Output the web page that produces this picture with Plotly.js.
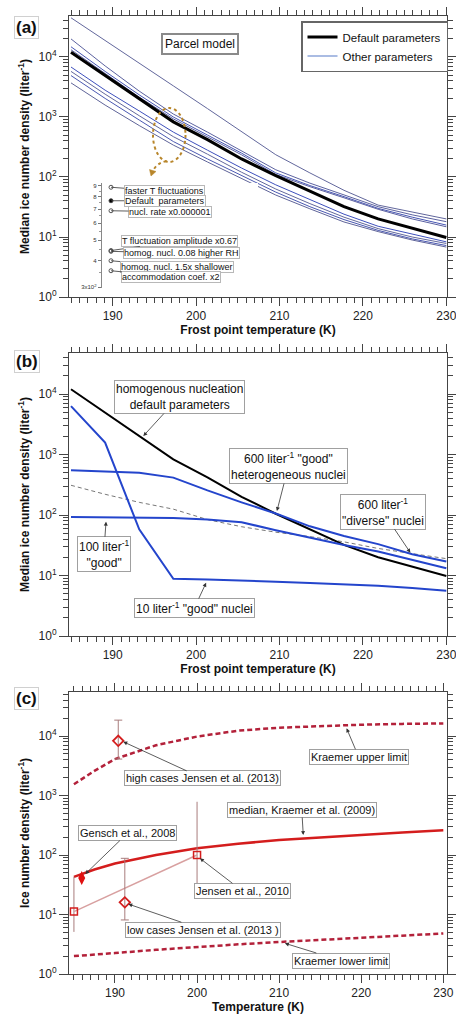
<!DOCTYPE html>
<html><head><meta charset="utf-8">
<script src="https://cdn.plot.ly/plotly-3.0.1.min.js"></script>
<style>html,body{margin:0;padding:0;background:#fff}#chart{width:456px;height:1021px}</style>
</head><body><div id="chart"></div>
<script>
// ---------- DATA ----------
const gridT = [185, 189.09, 193.18, 197.27, 201.36, 205.45, 209.55, 213.64, 217.73, 221.82, 225.91, 230];
// panel (a): default + other parameter sets
const aDefault = [12000, 4900, 2000, 830, 420, 200, 105, 58, 32, 20, 13.8, 9.8];
const aOther1 = [45000, 19000, 7900, 3300, 1380, 575, 235, 117, 60, 34, 26, 20];
const aOther2 = [20000, 7100, 2700, 1120, 560, 275, 132, 79, 50, 32, 23.4, 18];
const aOther3 = [14800, 5750, 2340, 1000, 500, 250, 117, 72, 47, 30, 21.4, 15.8];
const aOther4 = [13200, 5250, 2140, 930, 470, 234, 110, 69, 45, 29, 20, 14.8];
const aOther5 = [6800, 2800, 1260, 560, 280, 141, 74, 42, 24, 15.1, 11.2, 8.3];
const aOther6 = [5750, 2400, 1050, 470, 240, 120, 63, 36, 21.4, 13.8, 10, 7.8];
const aOther7 = [4900, 2040, 890, 390, 200, 105, 56, 32, 19.5, 12.9, 9.3, 7.2];
const aOther8 = [3700, 1580, 720, 340, 178, 93, 50, 29.5, 17.8, 12.3, 8.9, 6.8];
// inset of panel (a)
const insetLabels = ['faster T fluctuations', 'Default  parameters', 'nucl. rate x0.000001',
  'T fluctuation amplitude x0.67', 'homog. nucl. 0.08 higher RH', 'homog. nucl. 1.5x shallower', 'accommodation coef. x2'];
const insetValues = [887, 766, 687, 446, 442, 399, 358];
const insetTickVals = [300, 400, 500, 600, 700, 800, 900];
const insetTickText = ['3x10<sup>2</sup>', '4', '5', '6', '7', '8', '9'];
// panel (b)
const b600good = [550, 530, 500, 415, 255, 162, 106, 65, 45, 33, 22.5, 17];
const b600diverse = [310, 220, 162, 125, 84, 64, 52, 44, 36, 28, 23, 19];
const b100good = [93, 92, 91, 89, 84, 76, 56, 42, 32, 25, 18, 13.2];
const b10good = [6300, 1570, 58, 8.8, 8.6, 8.3, 7.9, 7.5, 7.1, 6.8, 6.2, 5.6];
// panel (c)
const cT = [185, 187.5, 190, 195, 200, 205, 210, 215, 220, 225, 230];
const cUpper = [1550, 2600, 4100, 7000, 9800, 12300, 13800, 14800, 15500, 16000, 16300];
const cMedian = [43, 57, 72, 100, 130, 155, 178, 198, 218, 238, 260];
const cLower = [2.0, 2.1, 2.25, 2.55, 2.85, 3.15, 3.45, 3.75, 4.1, 4.45, 4.8];
const jensen10T = [185, 200];
const jensen10N = [11.2, 100];
const jensen10Plus = [31.8, 685];
const jensen10Minus = [6.1, 77];
const jensen13T = [190.4, 191.2];
const jensen13N = [8300, 16];
const jensen13Plus = [10200, 72];
const jensen13Minus = [4200, 7.9];
const genschT = [185.95];
const genschN = [41];
const decadeVals = [1, 10, 100, 1000, 10000];
const decadeText = ['10<sup>0</sup>', '10<sup>1</sup>', '10<sup>2</sup>', '10<sup>3</sup>', '10<sup>4</sup>'];

// ---------- LAYOUT HELPERS ----------
const W = 456, H = 1021, M = {l: 69, r: 9, t: 16, b: 47};
const PW = W - M.l - M.r, PH = H - M.t - M.b;
const px = x => (x - M.l) / PW;
const py = y => (H - M.b - y) / PH;
const FONT = 'Liberation Sans, Arial, sans-serif';
const AX = '#444';

const minorVals = [];
for (let e = 0; e < 5; e++) for (let k = 2; k <= 9; k++) minorVals.push(k * Math.pow(10, e));

function xAxis(anchor, range, title) {
  return {
    anchor: anchor, domain: [0, 1], range: range, automargin: false, ticklabeloverflow: 'allow',
    tickmode: 'linear', tick0: 180, dtick: 10,
    ticks: 'outside', ticklen: 8, tickwidth: 1, tickcolor: AX,
    minor: {tickmode: 'linear', tick0: 180, dtick: 1, ticks: 'outside', ticklen: 5, tickwidth: 1, tickcolor: AX},
    showline: true, linecolor: AX, linewidth: 1, mirror: 'ticks',
    showgrid: false, zeroline: false,
    tickfont: {size: 12, color: '#222'},
    title: {text: title, font: {size: 12, weight: 'bold', color: '#111'}, standoff: 3}
  };
}
function yAxis(anchor, top, bottom, range, title) {
  return {
    anchor: anchor, type: 'log', domain: [py(bottom), py(top)], range: range, automargin: false,
    ticklabeloverflow: 'allow',
    tickmode: 'array', tickvals: decadeVals, ticktext: decadeText,
    ticks: 'outside', ticklen: 9, tickwidth: 1, tickcolor: AX,
    minor: {tickmode: 'array', tickvals: minorVals, ticks: 'outside', ticklen: 5, tickwidth: 1, tickcolor: AX},
    showline: true, linecolor: AX, linewidth: 1, mirror: 'ticks',
    showgrid: false, zeroline: false,
    tickfont: {size: 12, color: '#222'},
    title: {text: title, font: {size: 12, weight: 'bold', color: '#111'}, standoff: 6}
  };
}

// ---------- TRACES ----------
const traces = [];
const otherSets = [aOther1, aOther2, aOther3, aOther4, aOther5, aOther6, aOther7, aOther8];
const otherColors = ['#62679c', '#5c62a0', '#4756b4', '#5a60a0', '#3e50bd', '#62679c', '#4a58b2', '#5f6499'];
otherSets.forEach((s, i) => traces.push({
  x: gridT, y: s, xaxis: 'x', yaxis: 'y', mode: 'lines',
  line: {color: otherColors[i], width: 1}, showlegend: false, hoverinfo: 'skip'
}));
traces.push({x: gridT, y: aDefault, xaxis: 'x', yaxis: 'y', mode: 'lines',
  line: {color: '#000', width: 3}, name: 'Default parameters', legendrank: 1});
// legend-only entry for the "other parameters" family (no drawn points)
traces.push({x: [null], y: [null], xaxis: 'x', yaxis: 'y', mode: 'lines',
  line: {color: '#8ea6da', width: 1.5}, name: 'Other parameters', legendrank: 2, showlegend: true});
// inset
traces.push({x: insetValues.map(() => 0), y: insetValues, xaxis: 'x4', yaxis: 'y4', mode: 'markers',
  marker: {symbol: insetLabels.map(l => l.startsWith('Default') ? 'circle' : 'circle-open'),
    color: insetLabels.map(l => l.startsWith('Default') ? '#000' : '#555'), size: 4, line: {width: 1}},
  showlegend: false, hoverinfo: 'skip'});

// panel (b)
traces.push({x: gridT, y: b600diverse, xaxis: 'x2', yaxis: 'y2', mode: 'lines',
  line: {color: '#777', width: 1, dash: '4px,3px'}, showlegend: false});
traces.push({x: gridT, y: aDefault, xaxis: 'x2', yaxis: 'y2', mode: 'lines',
  line: {color: '#000', width: 2}, showlegend: false});
[b600good, b100good, b10good].forEach(s => traces.push({x: gridT, y: s, xaxis: 'x2', yaxis: 'y2', mode: 'lines',
  line: {color: '#2445cc', width: 2}, showlegend: false}));

// panel (c)
const DR = '#b3213a';
traces.push({x: cT, y: cUpper, xaxis: 'x3', yaxis: 'y3', mode: 'lines',
  line: {color: DR, width: 2.5, dash: '5px,3px'}, showlegend: false});
traces.push({x: cT, y: cLower, xaxis: 'x3', yaxis: 'y3', mode: 'lines',
  line: {color: DR, width: 2.5, dash: '5px,3px'}, showlegend: false});
traces.push({x: cT, y: cMedian, xaxis: 'x3', yaxis: 'y3', mode: 'lines',
  line: {color: '#d41d1d', width: 2.5}, showlegend: false});
traces.push({x: jensen10T, y: jensen10N, xaxis: 'x3', yaxis: 'y3', mode: 'lines+markers',
  line: {color: '#d8a0a0', width: 1.5},
  marker: {symbol: 'square-open', size: 7, color: '#d41d1d', line: {width: 1.5}},
  error_y: {type: 'data', symmetric: false, array: jensen10Plus, arrayminus: jensen10Minus, color: '#a87c7c', thickness: 1, width: 0},
  showlegend: false});
traces.push({x: jensen13T, y: jensen13N, xaxis: 'x3', yaxis: 'y3', mode: 'markers',
  marker: {symbol: 'diamond-open', size: 8, color: '#d41d1d', line: {width: 1.8}},
  error_y: {type: 'data', symmetric: false, array: jensen13Plus, arrayminus: jensen13Minus, color: '#a87c7c', thickness: 1, width: 4},
  showlegend: false});
traces.push({x: genschT, y: genschN, xaxis: 'x3', yaxis: 'y3', mode: 'markers',
  marker: {symbol: 'diamond-tall', size: 10, color: '#e01010'}, showlegend: false});

// ---------- ANNOTATIONS ----------
const ann = [];
function panelLabel(t, cy) {
  ann.push({text: '<b>' + t + '</b>', xref: 'paper', yref: 'paper', x: px(14), y: py(cy),
    xanchor: 'left', yanchor: 'middle', showarrow: false, font: {size: 17, color: '#111'},
    bgcolor: '#fff', bordercolor: '#d0d0d0', borderwidth: 1, borderpad: 1});
}
panelLabel('(a)', 27); panelLabel('(b)', 361); panelLabel('(c)', 698);

ann.push({text: 'Parcel model', xref: 'paper', yref: 'paper', x: px(200), y: py(33), showarrow: false,
  font: {size: 12, color: '#111'}, bgcolor: '#fff', bordercolor: '#8a8a8a', borderwidth: 2, borderpad: 2});

// inset labels (arrow head at marker; ax, ay = offset of label box centre in px)
const insetOff = [[53, 4], [53.5, 0], [59, 1], [68.5, -9.5], [70.7, 2], [65.5, 6], [60.3, 6]];
insetLabels.forEach((t, i) => ann.push({text: t, xref: 'x4', yref: 'y4', x: 0, y: Math.log10(insetValues[i]),
  ax: insetOff[i][0], ay: insetOff[i][1], showarrow: true, arrowhead: 0, arrowwidth: 0.8, arrowcolor: '#333',
  font: {size: 9, color: '#111'}, bgcolor: '#fff', bordercolor: '#b8b8b8', borderwidth: 1, borderpad: 0}));

function callout(xr, yr, t, v, text, ax, ay, size) {
  ann.push({text: text, xref: xr, yref: yr, x: t, y: Math.log10(v), ax: ax, ay: ay,
    showarrow: true, arrowhead: 2, arrowsize: 1, arrowwidth: 0.8, arrowcolor: '#333', standoff: 0,
    font: {size: size, color: '#111'}, bgcolor: '#fff', bordercolor: '#a0a0a0', borderwidth: 1, borderpad: 1});
}
// panel (b)
callout('x2', 'y2', 193.67, Math.pow(10, 3.306), 'homogenous nucleation<br>default parameters', 35.7, -39, 12);
callout('x2', 'y2', 209.69, Math.pow(10, 2.066), '600 liter<sup>-1</sup> "good"<br>heterogeneous nuclei', 11.6, -45, 12);
callout('x2', 'y2', 225.69, Math.pow(10, 1.377), '600 liter<sup>-1</sup><br>"diverse" nuclei', -27.5, -41, 12);
callout('x2', 'y2', 189.2, Math.pow(10, 1.89), '100 liter<sup>-1</sup><br>"good"', -2.3, 32.6, 12);
callout('x2', 'y2', 201.2, Math.pow(10, 0.88), '10 liter<sup>-1</sup> "good" nuclei', -11.8, 25.3, 12);
// panel (c)
callout('x3', 'y3', 191.01, Math.pow(10, 3.904), 'high cases Jensen et al. (2013)', 79.7, 36.6, 11);
callout('x3', 'y3', 218.22, Math.pow(10, 4.129), 'Kraemer upper limit', 12, 28.4, 11);
callout('x3', 'y3', 212.94, Math.pow(10, 2.336), 'median, Kraemer et al. (2009)', -1.5, -25, 11);
callout('x3', 'y3', 186.38, Math.pow(10, 1.68), 'Gensch et al., 2008', 42.4, -41, 11);
callout('x3', 'y3', 200.35, Math.pow(10, 1.944), 'Jensen et al., 2010', 42.3, 32.5, 11);
callout('x3', 'y3', 191.62, Math.pow(10, 1.176), 'low cases Jensen et al. (2013 )', 75, 25.7, 11);
callout('x3', 'y3', 210.7, Math.pow(10, 0.516), 'Kraemer lower limit', 55.8, 17.2, 11);

// ---------- SHAPES ----------
const GOLD = '#b8862b';
const shapes = [
  {type: 'circle', xref: 'paper', yref: 'paper', x0: px(153), x1: px(185.5), y0: py(162), y1: py(108),
    line: {color: GOLD, width: 2, dash: 'dot'}},
  {type: 'path', xref: 'paper', yref: 'paper',
    path: `M ${px(166.7)} ${py(161)} Q ${px(157)} ${py(163)} ${px(153.5)} ${py(170)}`,
    line: {color: GOLD, width: 2, dash: 'dot'}},
  {type: 'path', xref: 'paper', yref: 'paper',
    path: `M ${px(151)} ${py(176)} L ${px(149.5)} ${py(169.5)} L ${px(156)} ${py(171.5)} Z`,
    fillcolor: GOLD, line: {color: GOLD, width: 0.5}}
];

const layout = {
  width: W, height: H, margin: Object.assign({autoexpand: false}, M), paper_bgcolor: '#fff', plot_bgcolor: '#fff',
  font: {family: FONT, color: '#111'},
  showlegend: true,
  legend: {x: px(301), y: py(21), xanchor: 'left', yanchor: 'top', bgcolor: '#fff',
    bordercolor: '#666', borderwidth: 1.5, font: {size: 11.5}, tracegroupgap: 0, itemwidth: 30,
    traceorder: 'normal'},
  xaxis: xAxis('y', [184.76, 230.08], '<b>Frost point temperature (K)</b>'),
  yaxis: yAxis('x', 16, 297, [0, 4.683], '<b>Median ice number density (liter<sup>-1</sup>)</b>'),
  xaxis2: xAxis('y2', [184.76, 230.08], '<b>Frost point temperature (K)</b>'),
  yaxis2: yAxis('x2', 353, 636, [0, 4.678], '<b>Median ice number density (liter<sup>-1</sup>)</b>'),
  xaxis3: xAxis('y3', [184.4, 230.45], '<b>Temperature (K)</b>'),
  yaxis3: yAxis('x3', 692, 974, [0, 4.74], '<b>Ice number density (liter<sup>-1</sup>)</b>'),
  xaxis4: {anchor: 'y4', domain: [px(101.7), px(258)], range: [-1, 15.8], visible: false, showgrid: false, zeroline: false},
  yaxis4: {anchor: 'x4', type: 'log', domain: [py(288), py(183)], range: [2.4724, 2.968], automargin: false,
    tickmode: 'array', tickvals: insetTickVals, ticktext: insetTickText,
    ticks: 'outside', ticklen: 3, tickcolor: '#777', tickfont: {size: 6, color: '#333'},
    minor: {tickmode: 'array', tickvals: [350, 450, 550, 650, 750, 850], ticks: 'outside', ticklen: 2, tickcolor: '#999'},
    showline: true, linecolor: '#888', linewidth: 1, showgrid: false, zeroline: false},
  annotations: ann,
  shapes: shapes
};

Plotly.newPlot('chart', traces, layout, {staticPlot: true, displayModeBar: false});
</script></body></html>
